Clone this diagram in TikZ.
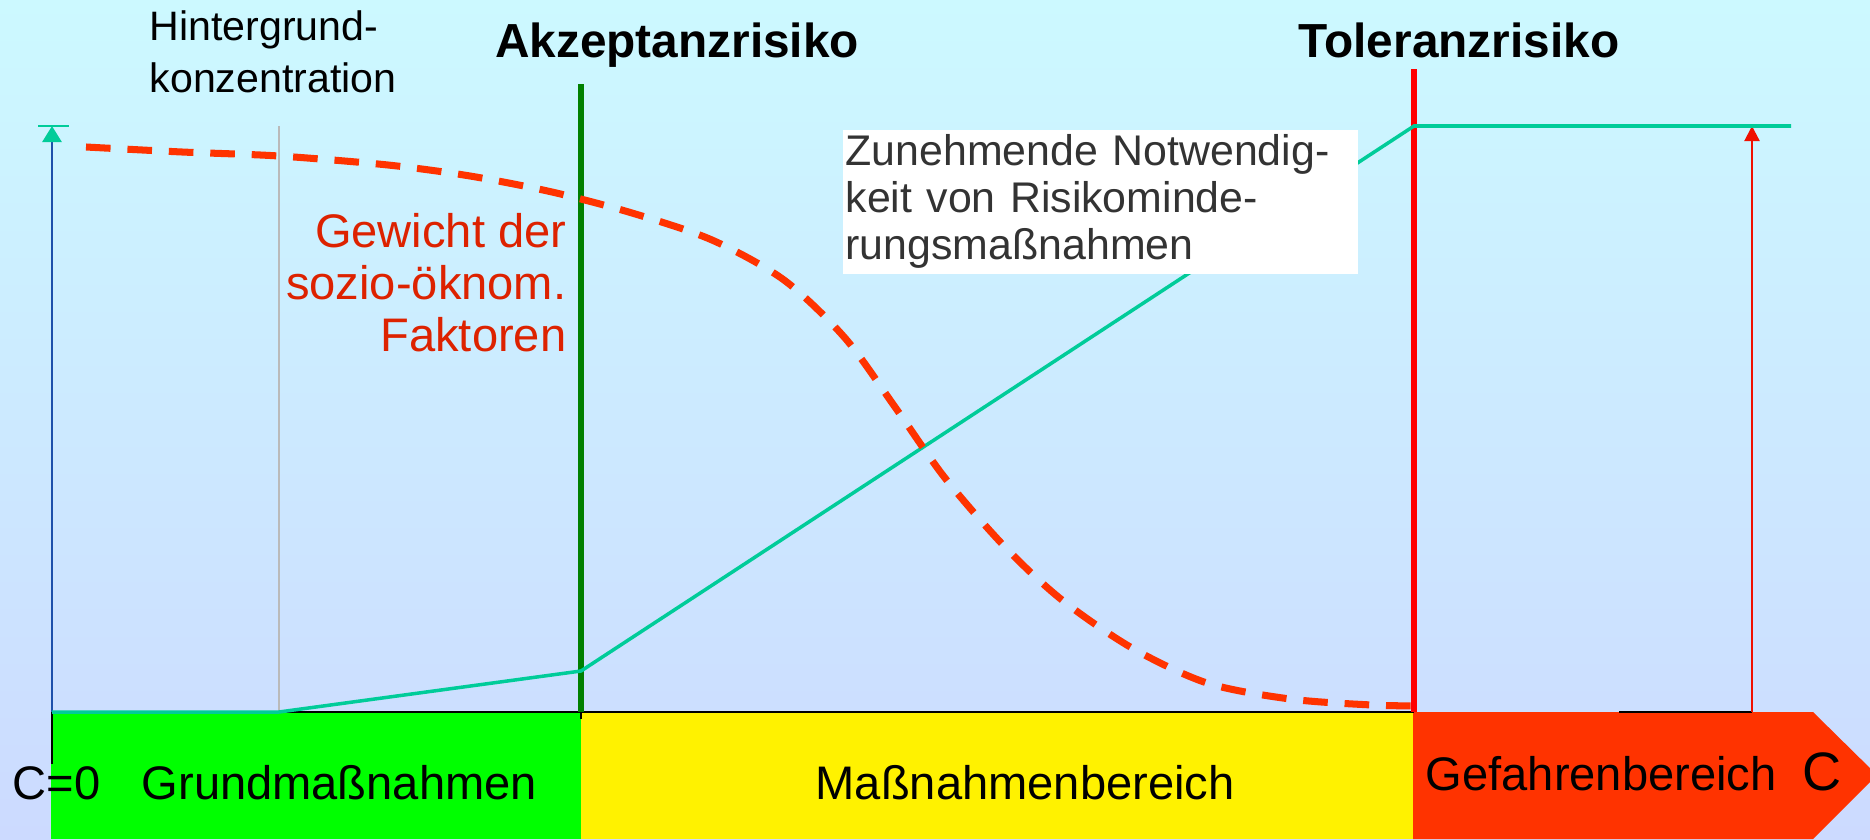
\documentclass[tikz,border=0pt]{standalone}
\usepackage{fontspec}
\setmainfont{Liberation Sans}
\usetikzlibrary{arrows.meta}
\definecolor{bgtop}{RGB}{204,249,255}
\definecolor{bgbot}{RGB}{204,218,255}
\definecolor{ratio}{RGB}{0,204,153}
\definecolor{axisblue}{RGB}{30,80,170}
\definecolor{akzgreen}{RGB}{0,128,0}
\definecolor{curvered}{RGB}{255,51,0}
\definecolor{labelred}{RGB}{221,34,0}
\definecolor{arrowred}{RGB}{240,16,0}
\definecolor{notegray}{RGB}{51,51,51}

\begin{document}
\begin{tikzpicture}[x=1cm,y=1cm,>=stealth]
  \tikzstyle{head}=[font=\fontsize{13.6}{15}\selectfont\bfseries, inner sep=0]
  \tikzstyle{zone}=[font=\fontsize{13.4}{15}\selectfont, inner sep=0]
  \tikzstyle{thin}=[line width=0.6pt]
  \tikzstyle{weight}=[draw=curvered, line width=2pt, dash pattern=on 7pt off 4.8pt]

  \useasboundingbox (0,0) rectangle (18.70,8.39);
  \shade[top color=bgtop, bottom color=bgbot] (0,0) rectangle (18.70,8.39);

  \coordinate (o) at (0.52,1.27);
  \coordinate (ytop) at (0.52,7.13);
  \coordinate (bg) at (2.79,1.27);
  \coordinate (akz) at (5.81,1.27);
  \coordinate (tol) at (14.14,1.27);
  \coordinate (rfoot) at (17.52,1.27);
  \coordinate (rtop) at (17.52,7.13);

  \fill[green] (0.51,0) rectangle (akz);
  \fill[yellow] (5.81,0) rectangle (tol);
  \fill[curvered] (14.13,0) -- (14.13,1.27) -- (18.13,1.27) -- (18.77,0.64) -- (18.13,0) -- cycle;
  \draw[line width=0.5pt] (o) -- (tol);
  \draw[line width=0.5pt] (16.19,1.27) -- (rfoot);
  \draw[line width=0.5pt] (o) -- ++(0,-0.52);
  \draw[line width=0.5pt] (akz) -- ++(0,-0.07);

  \draw[black!27, line width=0.45pt] (bg) -- (bg |- ytop);
  \draw[akzgreen, line width=1.5pt] (akz) -- (5.81,7.55);
  \draw[red, line width=1.8pt] (tol) -- (14.14,7.70);

  \draw[axisblue, line width=0.8pt, -{Triangle[length=0.16cm,width=0.19cm,color=ratio]}] (o) -- (ytop);
  \draw[ratio, thin] ([xshift=-0.14cm]ytop) -- ([xshift=0.17cm]ytop);
  \draw[arrowred, thin, -{Triangle[length=0.15cm,width=0.15cm]}] (rfoot) -- (rtop);
  \draw[arrowred, thin] ([xshift=-0.14cm]rtop) -- ([xshift=0.17cm]rtop);

  \draw[ratio, line width=1pt] (o) -- (bg) -- (5.81,1.68) -- (14.14,7.13) -- (17.91,7.13);

  \draw[weight] plot[smooth] coordinates {(0.86,6.92) (1.82,6.87) (2.79,6.83) (3.88,6.74)
    (4.70,6.63) (5.52,6.47) (6.32,6.26) (7.12,5.99) (7.84,5.59) (8.45,5.01) (8.95,4.32)
    (9.45,3.61) (10.05,2.92) (10.62,2.39) (11.32,1.91) (12.07,1.56) (12.90,1.40)
    (13.72,1.34) (14.25,1.33)};

  \node[head, anchor=base] (akzlabel) at (6.77,7.82) {Akzeptanzrisiko};
  \node[head, anchor=base] (tollabel) at (14.59,7.82) {Toleranzrisiko};
  \node[font=\fontsize{11.7}{14.8}\selectfont, align=left, anchor=north west, inner sep=0] (bglabel) at (1.49,8.29) {Hintergrund-\\konzentration};
  \node[font=\fontsize{13.4}{14.7}\selectfont, text=labelred, align=right, anchor=north east, inner sep=0] (weightlabel) at (5.67,6.26) {Gewicht der\\sozio-öknom.\\Faktoren};
  \node[fill=white, text=notegray, font=\fontsize{12.2}{13.4}\selectfont, align=left, anchor=north west, inner xsep=0.03cm, inner ysep=0.05cm, text width=5.09cm] (need) at (8.42,7.10) {Zunehmende Notwendig-\\keit von Risikominde-\\rungsmaßnahmen};

  \node[zone, anchor=base west] (czero) at (0.12,0.40) {C=0};
  \node[zone, anchor=base west] (grund) at (1.41,0.40) {Grundmaßnahmen};
  \node[zone, anchor=base west] (massn) at (8.15,0.40) {Maßnahmenbereich};
  \node[zone, anchor=base west] (gefahr) at (14.25,0.49) {Gefahrenbereich};
  \node[font=\fontsize{15.4}{17}\selectfont, anchor=base west, inner sep=0] (cend) at (18.02,0.49) {C};
\end{tikzpicture}
\end{document}
